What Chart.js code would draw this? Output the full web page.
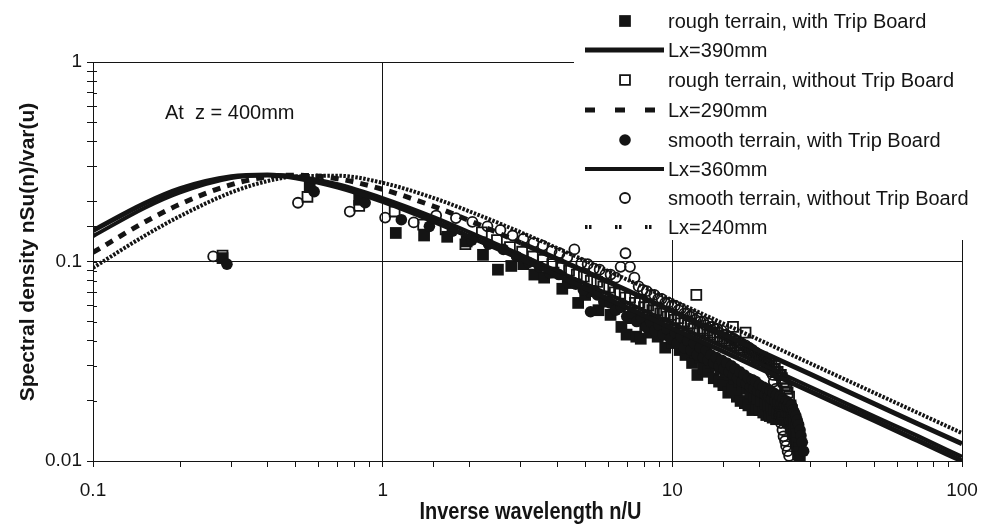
<!DOCTYPE html>
<html><head><meta charset="utf-8">
<script src="https://cdn.jsdelivr.net/npm/chart.js@4/dist/chart.umd.min.js"></script>
<style>html,body{margin:0;padding:0;background:#fff;}#wrap{width:982px;height:525px;}</style>
</head><body><div id="wrap"><canvas id="c" width="982" height="525"></canvas></div>
<script>
// ---- tick labels / texts ----
const xTickLabels = ['0.1', '1', '10', '100'];
const yTickLabels = ['0.01', '0.1', '1'];
const xTitle = 'Inverse wavelength n/U';
const yTitle = 'Spectral density nSu(n)/var(u)';
const note = 'At  z = 400mm';

// ---- series names ----
const seriesNames = [
  'rough terrain, with Trip Board', 'Lx=390mm',
  'rough terrain, without Trip Board', 'Lx=290mm',
  'smooth terrain, with Trip Board', 'Lx=360mm',
  'smooth terrain, without Trip Board', 'Lx=240mm'
];

// ---- model curves ----
const curveX = [0.1,0.15,0.2,0.3,0.4,0.5,0.7,1,1.5,2,3,5,7,10,15,20,30,50,70,100];
const lx390 = [0.143,0.195,0.232,0.266,0.271,0.263,0.236,0.200,0.159,0.133,0.103,0.0734,0.0587,0.0463,0.0354,0.0292,0.0223,0.0159,0.0127,0.0100];
const lx360 = [0.134,0.185,0.222,0.262,0.271,0.267,0.244,0.208,0.167,0.140,0.108,0.0774,0.0620,0.0489,0.0373,0.0308,0.0235,0.0167,0.0134,0.0105];
const lx290 = [0.111,0.157,0.194,0.243,0.266,0.271,0.260,0.230,0.189,0.160,0.124,0.0892,0.0715,0.0564,0.0431,0.0356,0.0272,0.0193,0.0154,0.0122];
const lx240 = [0.093,0.134,0.169,0.222,0.253,0.267,0.269,0.248,0.208,0.178,0.140,0.101,0.081,0.064,0.0489,0.0404,0.0308,0.0219,0.0175,0.0138];

// ---- measured: rough terrain, with Trip Board (filled squares) ----
const roughTripX = [0.28,0.56,0.83,1.11,1.39,1.67,1.95,2.22,2.5,2.78,3.06,3.34,3.61,3.89,4.17,4.45,4.73,5.0,5.28,5.56,5.84,6.12,6.39,6.67,6.95,7.23,7.51,7.78,8.06,8.34,8.62,8.9,9.17,9.45,9.73,10.0,10.3,10.6,10.8,11.1,11.4,11.7,12.0,12.2,12.5,12.8,13.1,13.3,13.6,13.9,14.2,14.5,14.7,15.0,15.3,15.6,15.8,16.1,16.4,16.7,17.0,17.2,17.5,17.8,18.1,18.3,18.6,18.9,19.2,19.5,19.7,20.0,20.3,20.6,20.9,21.1,21.4,21.7,22.0,22.2,22.5,22.8,23.1,23.4,23.6,23.9,24.2,24.5,24.7,25.0,25.3,25.6,25.9,26.1,26.4,26.7,27.0,27.2,27.5];
const roughTripY = [0.104,0.236,0.204,0.139,0.135,0.133,0.126,0.108,0.091,0.095,0.097,0.086,0.083,0.088,0.073,0.078,0.062,0.068,0.071,0.057,0.063,0.054,0.059,0.047,0.043,0.052,0.042,0.041,0.048,0.044,0.05,0.042,0.046,0.037,0.043,0.039,0.041,0.036,0.04,0.034,0.038,0.031,0.035,0.027,0.033,0.029,0.034,0.028,0.031,0.026,0.03,0.025,0.029,0.024,0.028,0.022,0.027,0.023,0.026,0.021,0.025,0.02,0.024,0.0195,0.023,0.019,0.022,0.018,0.021,0.0185,0.0205,0.018,0.02,0.0175,0.0195,0.017,0.019,0.0168,0.0185,0.0165,0.018,0.0162,0.0175,0.0163,0.0172,0.0165,0.017,0.016,0.0168,0.0158,0.0155,0.0148,0.0142,0.0136,0.013,0.0122,0.0116,0.011,0.0104];

// ---- rough terrain, without Trip Board (open squares) ----
const roughNoX = [0.28,0.55,0.83,1.1,1.38,1.65,1.93,2.2,2.48,2.75,3.03,3.3,3.58,3.85,4.13,4.4,4.68,4.95,5.23,5.5,5.78,6.05,6.33,6.6,6.88,7.15,7.43,7.7,7.98,8.25,8.53,8.8,9.08,9.35,9.63,9.9,10.2,10.5,10.7,11.0,11.3,11.6,11.8,12.1,12.4,12.7,12.9,13.2,13.5,13.8,14.0,14.3,14.6,14.9,15.1,15.4,15.7,16.0,16.2,16.5,16.8,17.1,17.3,17.6,17.9,18.2,18.4,18.7,19.0,19.3,19.5,19.8,20.1,20.4,20.6,20.9,21.2,21.5,21.7,22.0,22.3,22.6,22.8,23.1,23.4,23.7,23.9,24.2,24.5,24.8,25.0,25.3,25.6,25.9,26.1,26.4,26.7,27.0,27.2,27.5];
const roughNoY = [0.107,0.211,0.19,0.178,0.153,0.145,0.122,0.14,0.128,0.118,0.112,0.106,0.102,0.097,0.093,0.09,0.086,0.084,0.08,0.079,0.075,0.074,0.07,0.069,0.066,0.066,0.062,0.062,0.059,0.06,0.057,0.057,0.055,0.055,0.053,0.054,0.051,0.052,0.049,0.05,0.048,0.049,0.046,0.068,0.045,0.046,0.044,0.045,0.043,0.044,0.042,0.042,0.041,0.041,0.04,0.04,0.039,0.039,0.047,0.038,0.037,0.038,0.036,0.037,0.044,0.036,0.035,0.035,0.034,0.034,0.033,0.033,0.032,0.033,0.031,0.032,0.031,0.031,0.03,0.03,0.029,0.029,0.028,0.028,0.027,0.027,0.026,0.025,0.024,0.023,0.022,0.021,0.019,0.018,0.016,0.015,0.0135,0.012,0.0108,0.0098];

// ---- smooth terrain, with Trip Board (filled circles) ----
const smoothTripX = [0.29,0.58,0.87,1.16,1.45,1.74,2.03,2.32,2.61,2.9,3.19,3.48,3.77,4.06,4.35,4.64,4.93,5.22,5.51,5.8,6.09,6.38,6.67,6.96,7.25,7.54,7.83,8.12,8.41,8.7,8.99,9.28,9.57,9.86,10.2,10.4,10.7,11.0,11.3,11.6,11.9,12.2,12.5,12.8,13.1,13.3,13.6,13.9,14.2,14.5,14.8,15.1,15.4,15.7,16.0,16.2,16.5,16.8,17.1,17.4,17.7,18.0,18.3,18.6,18.9,19.1,19.4,19.7,20.0,20.3,20.6,20.9,21.2,21.5,21.8,22.0,22.3,22.6,22.9,23.2,23.5,23.8,24.1,24.4,24.7,24.9,25.2,25.5,25.8,26.1,26.4,26.7,27.0,27.3,27.6,27.8,28.1,28.4];
const smoothTripY = [0.097,0.224,0.197,0.162,0.15,0.142,0.128,0.122,0.115,0.106,0.099,0.094,0.088,0.086,0.079,0.077,0.072,0.056,0.068,0.063,0.062,0.057,0.059,0.053,0.055,0.05,0.052,0.047,0.05,0.045,0.048,0.043,0.046,0.041,0.044,0.039,0.042,0.037,0.04,0.036,0.039,0.034,0.037,0.033,0.036,0.032,0.034,0.031,0.033,0.03,0.032,0.029,0.031,0.028,0.03,0.027,0.029,0.026,0.028,0.025,0.027,0.0245,0.026,0.0235,0.0255,0.023,0.025,0.0225,0.024,0.022,0.0235,0.0215,0.023,0.021,0.0225,0.0205,0.022,0.02,0.0215,0.0198,0.021,0.0195,0.0205,0.019,0.02,0.0188,0.0195,0.0185,0.019,0.018,0.0175,0.0168,0.016,0.0152,0.0143,0.0134,0.0124,0.0112];

// ---- smooth terrain, without Trip Board (open circles) ----
const smoothNoX = [0.26,0.51,0.77,1.02,1.28,1.53,1.79,2.04,2.3,2.55,2.81,3.06,3.32,3.57,3.83,4.08,4.34,4.59,4.85,5.1,5.36,5.61,5.87,6.12,6.38,6.63,6.89,7.14,7.4,7.65,7.91,8.16,8.42,8.67,8.93,9.18,9.44,9.69,9.95,10.2,10.5,10.7,11.0,11.2,11.5,11.7,12.0,12.2,12.5,12.8,13.0,13.3,13.5,13.8,14.0,14.3,14.5,14.8,15.0,15.3,15.6,15.8,16.1,16.3,16.6,16.8,17.1,17.3,17.6,17.9,18.1,18.4,18.6,18.9,19.1,19.4,19.6,19.9,20.1,20.4,20.7,20.9,21.2,21.4,21.7,21.9,22.2,22.4,22.7,23.0,23.2,23.5,23.7,24.0,24.2,24.5,24.7,25.0,25.3];
const smoothNoY = [0.106,0.197,0.178,0.166,0.157,0.17,0.165,0.158,0.15,0.144,0.135,0.13,0.124,0.12,0.113,0.11,0.105,0.115,0.098,0.097,0.092,0.091,0.086,0.086,0.083,0.094,0.11,0.094,0.083,0.075,0.072,0.071,0.068,0.068,0.065,0.065,0.062,0.062,0.06,0.06,0.057,0.058,0.055,0.055,0.053,0.054,0.051,0.052,0.05,0.05,0.048,0.049,0.047,0.047,0.046,0.046,0.044,0.045,0.043,0.043,0.042,0.042,0.041,0.041,0.04,0.04,0.039,0.039,0.038,0.038,0.037,0.037,0.036,0.036,0.035,0.035,0.034,0.034,0.033,0.033,0.032,0.032,0.031,0.03,0.029,0.028,0.027,0.025,0.023,0.021,0.019,0.017,0.0155,0.0143,0.0133,0.0126,0.0119,0.0112,0.0106];

const pts = (xs, ys) => xs.map((x, i) => ({x: x, y: ys[i]}));
const INK = '#141414';
const FONT = '"Liberation Sans", Arial, sans-serif';
const isPow10 = v => { const l = Math.log10(v); return Math.abs(l - Math.round(l)) < 1e-6; };

const markerDs = (label, xs, ys, style, r, filled, order) => ({
  label, data: pts(xs, ys), showLine: false, pointStyle: style, pointRadius: r,
  backgroundColor: filled ? INK : 'rgba(255,255,255,0)', borderColor: INK,
  pointBorderWidth: filled ? 0 : 1.8, order, filled
});
const lineDs = (label, ys, width, dash, legDash, order, solidFrom) => ({
  label, data: pts(curveX, ys), showLine: true, pointRadius: 0, borderColor: INK,
  borderWidth: width, borderDash: dash, legDash, cubicInterpolationMode: 'monotone', fill: false, order,
  segment: solidFrom ? {borderDash: c => (c.p0.parsed.x >= solidFrom ? [] : dash)} : undefined
});

const datasets = [
  markerDs(seriesNames[0], roughTripX, roughTripY, 'rect', 8.3, true, 3),
  lineDs(seriesNames[1], lx390, 5, [], [], 0),
  markerDs(seriesNames[2], roughNoX, roughNoY, 'rect', 7, false, 2),
  lineDs(seriesNames[3], lx290, 5, [8, 7], [10, 20], 0, 3),
  markerDs(seriesNames[4], smoothTripX, smoothTripY, 'circle', 5.8, true, 1),
  lineDs(seriesNames[5], lx360, 4, [], [], 0),
  markerDs(seriesNames[6], smoothNoX, smoothNoY, 'circle', 5, false, 1),
  lineDs(seriesNames[7], lx240, 4, [2.5, 1.5], [2.5, 1.5, 2.5, 23.5], 0)
];

// boxed legend, annotation, axis titles, inner tick marks
const LEG = {x0: 574, y1: 240, mark: 625, lineA: 585, lineB: 664, text: 668, rows: [21, 50, 80, 110, 140, 169, 198, 227]};
const refPlugin = {
  id: 'refDecor',
  afterDraw(chart) {
    const ctx = chart.ctx;
    const ys = chart.scales.y, xs = chart.scales.x;
    ctx.save();
    // tick marks crossing into the plot on the y axis
    ctx.strokeStyle = INK; ctx.lineWidth = 1;
    ys.ticks.forEach(t => {
      const py = Math.round(ys.getPixelForValue(t.value)) + 0.5;
      ctx.beginPath(); ctx.moveTo(xs.left, py); ctx.lineTo(xs.left + 4, py); ctx.stroke();
    });
    ctx.fillStyle = '#fff';
    ctx.fillRect(LEG.x0, 0, 982 - LEG.x0, LEG.y1);
    ctx.fillStyle = INK;
    ctx.font = '20px ' + FONT;
    ctx.textBaseline = 'middle'; ctx.textAlign = 'left';
    datasets.forEach((ds, i) => {
      const y = LEG.rows[i];
      ctx.save();
      if (ds.showLine) {
        ctx.lineWidth = ds.borderWidth; ctx.setLineDash(ds.legDash);
        ctx.beginPath(); ctx.moveTo(LEG.lineA, y); ctx.lineTo(LEG.lineB, y); ctx.stroke();
      } else {
        ctx.fillStyle = ds.filled ? INK : '#fff'; ctx.lineWidth = ds.pointBorderWidth;
        ctx.beginPath();
        if (ds.pointStyle === 'rect') { const s = ds.pointRadius * Math.SQRT1_2; ctx.rect(LEG.mark - s, y - s, 2 * s, 2 * s); }
        else { ctx.arc(LEG.mark, y, ds.pointRadius, 0, Math.PI * 2); }
        ctx.fill(); if (!ds.filled) ctx.stroke();
      }
      ctx.restore();
      ctx.fillText(ds.label, LEG.text, y + 1);
    });
    ctx.font = '20px ' + FONT;
    ctx.fillText(note, 165, 113);
    // y title
    ctx.save();
    ctx.font = 'bold 21px ' + FONT;
    ctx.textAlign = 'center';
    ctx.translate(28, 252); ctx.rotate(-Math.PI / 2);
    ctx.fillText(yTitle, 0, 0);
    ctx.restore();
    // x title (condensed bold, as in the original)
    ctx.save();
    ctx.font = 'bold 24px ' + FONT;
    ctx.textAlign = 'center'; ctx.textBaseline = 'alphabetic';
    const w = ctx.measureText(xTitle).width;
    ctx.translate((xs.left + xs.right) / 2 + 3, 519);
    ctx.scale(222 / w, 1);
    ctx.fillText(xTitle, 0, 0);
    ctx.restore();
    ctx.restore();
  }
};

new Chart(document.getElementById('c'), {
  type: 'scatter',
  data: {datasets},
  options: {
    responsive: false, animation: false, events: [], devicePixelRatio: 1,
    layout: {padding: {top: 62, right: 20, left: 0, bottom: 0}},
    plugins: {legend: {display: false}, tooltip: {enabled: false}},
    scales: {
      x: {
        type: 'logarithmic', min: 0.1, max: 100, position: 'bottom',
        afterFit: s => { s.height = 64; s.paddingLeft = 0; s.paddingRight = 0; },
        border: {display: true, color: INK, width: 1},
        grid: {drawOnChartArea: true, color: c => (c.tick && isPow10(c.tick.value)) ? INK : 'rgba(0,0,0,0)', tickColor: INK, tickLength: 6, lineWidth: 1},
        ticks: {autoSkip: false, maxRotation: 0, padding: 12, color: INK, font: {family: FONT, size: 19},
          callback: v => isPow10(v) ? xTickLabels[Math.round(Math.log10(v)) + 1] : ''},
        title: {display: false}
      },
      y: {
        type: 'logarithmic', min: 0.01, max: 1, position: 'left',
        afterFit: s => { s.width = 93; },
        border: {display: true, color: INK, width: 1},
        grid: {drawOnChartArea: true, color: c => (c.tick && isPow10(c.tick.value)) ? INK : 'rgba(0,0,0,0)', tickColor: INK, tickLength: 6, lineWidth: 1},
        ticks: {autoSkip: false, padding: 5, color: INK, font: {family: FONT, size: 19},
          callback: v => isPow10(v) ? yTickLabels[Math.round(Math.log10(v)) + 2] : ''},
        title: {display: false}
      }
    }
  },
  plugins: [refPlugin]
});
</script>
</body></html>
